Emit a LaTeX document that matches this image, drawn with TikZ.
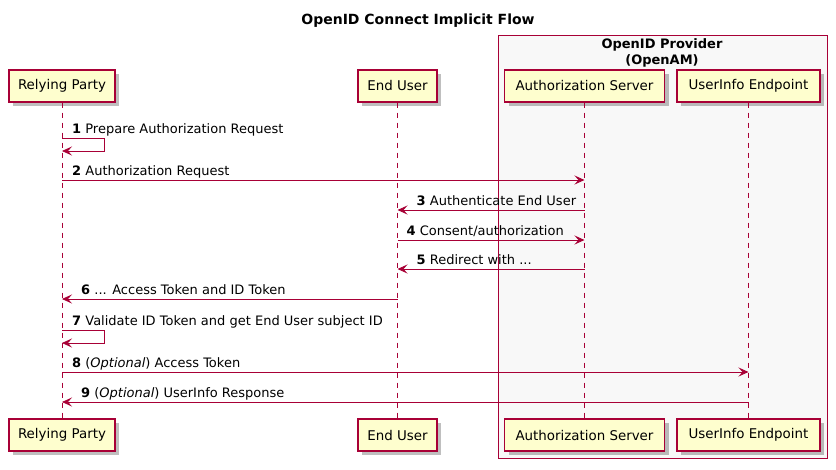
\documentclass[tikz,border=0pt]{standalone}
\usepackage{fontspec}
\setmainfont{DejaVu Sans}
\usetikzlibrary{arrows.meta,shadows}
\definecolor{pborder}{HTML}{A80036}
\definecolor{pfill}{HTML}{FEFECE}
\definecolor{gfill}{HTML}{F8F8F8}
\begin{document}
\begin{tikzpicture}[x=1pt,y=-1pt,
 part/.style={draw=pborder,line width=1.2pt,fill=pfill,minimum height=32pt,inner sep=0pt,
   font=\fontsize{13.4}{16}\selectfont,
   drop shadow={shadow xshift=4pt,shadow yshift=-4pt,fill=black,opacity=0.25}},
 grpbox/.style={draw=pborder,fill=gfill,line width=0.9pt,inner sep=0pt,anchor=north west},
 life/.style={draw=pborder,dash pattern=on 5pt off 5pt,line width=0.8pt},
 msg/.style={draw=pborder,line width=0.8pt,-{Stealth[length=10pt,width=9pt,inset=4pt]}},
 lbl/.style={anchor=base west,inner sep=0pt,font=\fontsize{13}{15}\selectfont},
 ttl/.style={anchor=base,inner sep=0pt,font=\bfseries\fontsize{14}{16}\selectfont},
 gttl/.style={anchor=base,inner sep=0pt,font=\bfseries\fontsize{13}{15}\selectfont},
]
\useasboundingbox[fill=white] (0,0) rectangle (836,469);
\node[ttl] (title) at (418,24) {OpenID Connect Implicit Flow};
\node[grpbox,minimum width=328.5pt,minimum height=423pt] (grp) at (498,35) {};
\node[gttl] (gt1) at (662,48) {OpenID Provider};
\node[gttl] (gt2) at (662,64) {(OpenAM)};
% participants
\node[part,minimum width=106pt] (rp) at (62,86) {Relying Party};
\node[part,minimum width=79pt] (eu) at (397.5,86) {End User};
\node[part,minimum width=160pt] (as) at (584.5,86) {Authorization Server};
\node[part,minimum width=143pt] (ui) at (748.5,86) {UserInfo Endpoint};
\node[part,minimum width=106pt] (rpb) at (62,435) {Relying Party};
\node[part,minimum width=79pt] (eub) at (397.5,435) {End User};
\node[part,minimum width=160pt] (asb) at (584.5,435) {Authorization Server};
\node[part,minimum width=143pt] (uib) at (748.5,435) {UserInfo Endpoint};
% lifelines
\draw[life] (rp) -- (rpb);
\draw[life] (eu) -- (eub);
\draw[life] (as) -- (asb);
\draw[life] (ui) -- (uib);
% message 1
\coordinate (m1a) at (62,138); \coordinate (m1b) at (104,138);
\coordinate (m1c) at (104,151); \coordinate (m1d) at (62,151);
\draw[msg] (m1a) -- (m1b) -- (m1c) -- (m1d);
\node[lbl] (l1) at (72,133.5) {\textbf{1} Prepare Authorization Request};
% message 2
\coordinate (m2a) at (62,180); \coordinate (m2b) at (584.5,180);
\draw[msg] (m2a) -- (m2b);
\node[lbl] (l2) at (72,175.5) {\textbf{2} Authorization Request};
% message 3
\coordinate (m3a) at (584.5,210); \coordinate (m3b) at (397.5,210);
\draw[msg] (m3a) -- (m3b);
\node[lbl] (l3) at (416.5,205.5) {\textbf{3} Authenticate End User};
% message 4
\coordinate (m4a) at (397.5,240); \coordinate (m4b) at (584.5,240);
\draw[msg] (m4a) -- (m4b);
\node[lbl] (l4) at (406.5,235.5) {\textbf{4} Consent/authorization};
% message 5
\coordinate (m5a) at (584.5,269); \coordinate (m5b) at (397.5,269);
\draw[msg] (m5a) -- (m5b);
\node[lbl] (l5) at (416.5,264.5) {\textbf{5} Redirect with ...};
% message 6
\coordinate (m6a) at (397.5,299); \coordinate (m6b) at (62,299);
\draw[msg] (m6a) -- (m6b);
\node[lbl] (l6) at (81,294.5) {\textbf{6} ... Access Token and ID Token};
% message 7
\coordinate (m7a) at (62,330); \coordinate (m7b) at (104,330);
\coordinate (m7c) at (104,343); \coordinate (m7d) at (62,343);
\draw[msg] (m7a) -- (m7b) -- (m7c) -- (m7d);
\node[lbl] (l7) at (72,325.5) {\textbf{7} Validate ID Token and get End User subject ID};
% message 8
\coordinate (m8a) at (62,372); \coordinate (m8b) at (748.5,372);
\draw[msg] (m8a) -- (m8b);
\node[lbl] (l8) at (72,367.5) {\textbf{8} (\textit{Optional}) Access Token};
% message 9
\coordinate (m9a) at (748.5,402); \coordinate (m9b) at (62,402);
\draw[msg] (m9a) -- (m9b);
\node[lbl] (l9) at (81,397.5) {\textbf{9} (\textit{Optional}) UserInfo Response};
\end{tikzpicture}
\end{document}
